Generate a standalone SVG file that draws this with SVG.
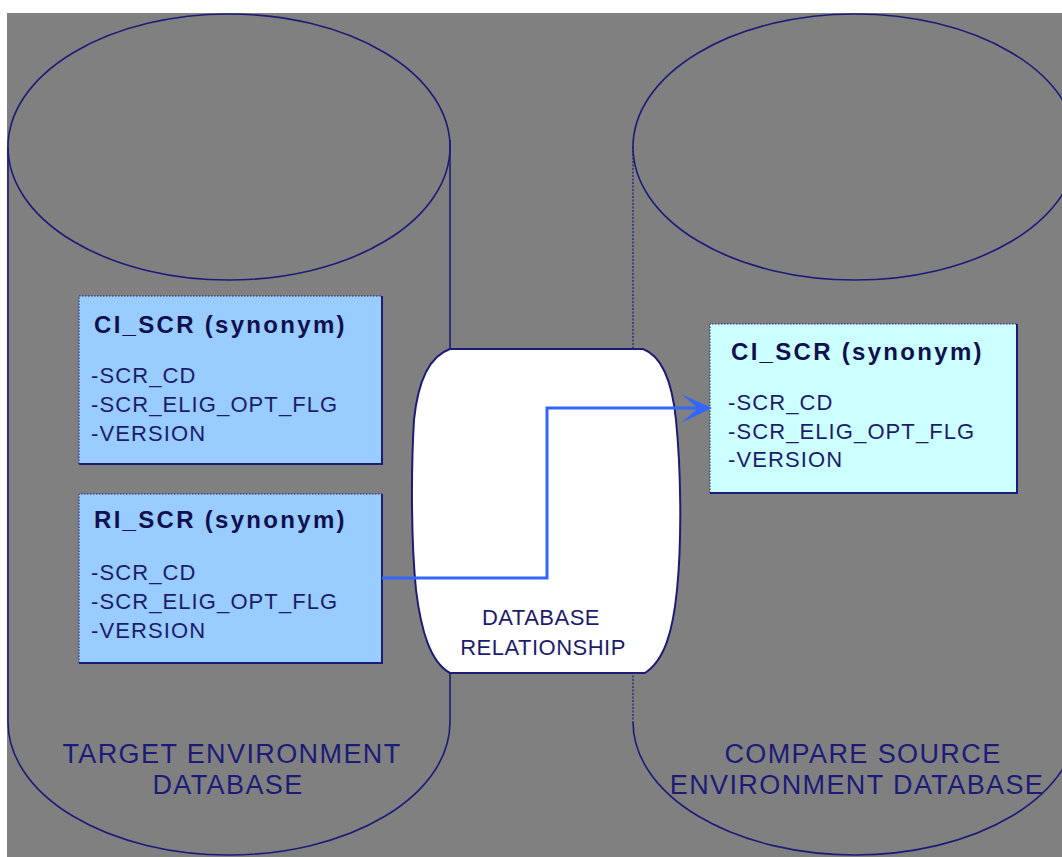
<svg xmlns="http://www.w3.org/2000/svg" width="1062" height="857" viewBox="0 0 1062 857">
<style>
.cyl{fill:none;stroke:#1c1c78;stroke-width:1.6}
.dot{fill:none;stroke:#1c1c78;stroke-width:1.2;stroke-dasharray:2 1.5}
.boxedge{fill:none;stroke:#1c1c78;stroke-width:2}
.boxtop{fill:none;stroke:#1c1c78;stroke-width:1;stroke-dasharray:1.5 1.5}
.title{font-family:"Liberation Sans",Arial,sans-serif;font-weight:bold;font-size:24px;fill:#10104e;letter-spacing:2.3px}
.item{font-family:"Liberation Sans",Arial,sans-serif;font-size:22px;fill:#1c1c6a;letter-spacing:1.1px}
.dbl{font-family:"Liberation Sans",Arial,sans-serif;font-size:27px;fill:#1c1c78;text-anchor:middle;letter-spacing:1.4px}
.rel{font-family:"Liberation Sans",Arial,sans-serif;font-size:22px;fill:#1c1c6a;text-anchor:middle;letter-spacing:0.5px}
.conn{fill:none;stroke:#3366ff;stroke-width:3}
</style>
<rect x="0" y="0" width="1062" height="857" fill="#ffffff"/>
<rect x="7" y="13" width="1055" height="844" fill="#808080"/>

<g id="target-db">
  <ellipse class="cyl" cx="229" cy="147" rx="221" ry="133"/>
  <line class="cyl" x1="8" y1="147" x2="8" y2="722"/>
  <line class="cyl" x1="450" y1="140" x2="450" y2="722"/>
  <path class="cyl" d="M8,722 A221,133 0 0 0 450,722"/>
  <text class="dbl" x="232" y="763">TARGET ENVIRONMENT</text>
  <text class="dbl" x="228" y="794">DATABASE</text>
</g>

<g id="source-db">
  <ellipse class="cyl" cx="855" cy="147" rx="222" ry="133"/>
  <line class="dot" x1="633" y1="147" x2="633" y2="722"/>
  <path class="cyl" d="M633,722 A222,133 0 0 0 1077,722"/>
  <text class="dbl" x="863" y="763">COMPARE SOURCE</text>
  <text class="dbl" x="857" y="794">ENVIRONMENT DATABASE</text>
</g>

<g id="ci-scr-target">
  <rect x="79" y="296" width="303" height="168" fill="#99ccff"/>
  <path class="boxtop" d="M79,464 V296 H382"/>
  <path class="boxedge" d="M382,296 V464 H79"/>
  <text class="title" x="94" y="333">CI_SCR (synonym)</text>
  <text class="item" x="91" y="383">-SCR_CD</text>
  <text class="item" x="91" y="412">-SCR_ELIG_OPT_FLG</text>
  <text class="item" x="91" y="441">-VERSION</text>
</g>

<g id="ri-scr-target">
  <rect x="79" y="494" width="303" height="169" fill="#99ccff"/>
  <path class="boxtop" d="M79,663 V494 H382"/>
  <path class="boxedge" d="M382,494 V663 H79"/>
  <text class="title" x="94" y="528">RI_SCR (synonym)</text>
  <text class="item" x="91" y="580">-SCR_CD</text>
  <text class="item" x="91" y="609">-SCR_ELIG_OPT_FLG</text>
  <text class="item" x="91" y="638">-VERSION</text>
</g>

<g id="ci-scr-source">
  <rect x="710" y="324" width="307" height="169" fill="#ccffff"/>
  <path class="boxtop" d="M710,493 V324 H1017"/>
  <path class="boxedge" d="M1017,324 V493 H710"/>
  <text class="title" x="731" y="360">CI_SCR (synonym)</text>
  <text class="item" x="728" y="410">-SCR_CD</text>
  <text class="item" x="728" y="439">-SCR_ELIG_OPT_FLG</text>
  <text class="item" x="728" y="467">-VERSION</text>
</g>

<g id="db-relationship">
  <path d="M450,349 H643 C662,356 672,380 676,420 C681,470 682,540 677,590 C673,630 665,660 645,673 H450 C430,662 421,630 416,590 C411,540 411,470 414,420 C418,380 430,356 450,349 Z" fill="#ffffff" stroke="#1c1c78" stroke-width="2"/>
  <text class="rel" x="541" y="625">DATABASE</text>
  <text class="rel" x="543" y="655">RELATIONSHIP</text>
</g>

<g id="connectors">
  <polyline class="conn" points="382,578 547,578 547,408 708,408"/>
  <path d="M681,394 L712,408 L681,423 L698,408 Z" fill="#3366ff"/>
</g>
</svg>
